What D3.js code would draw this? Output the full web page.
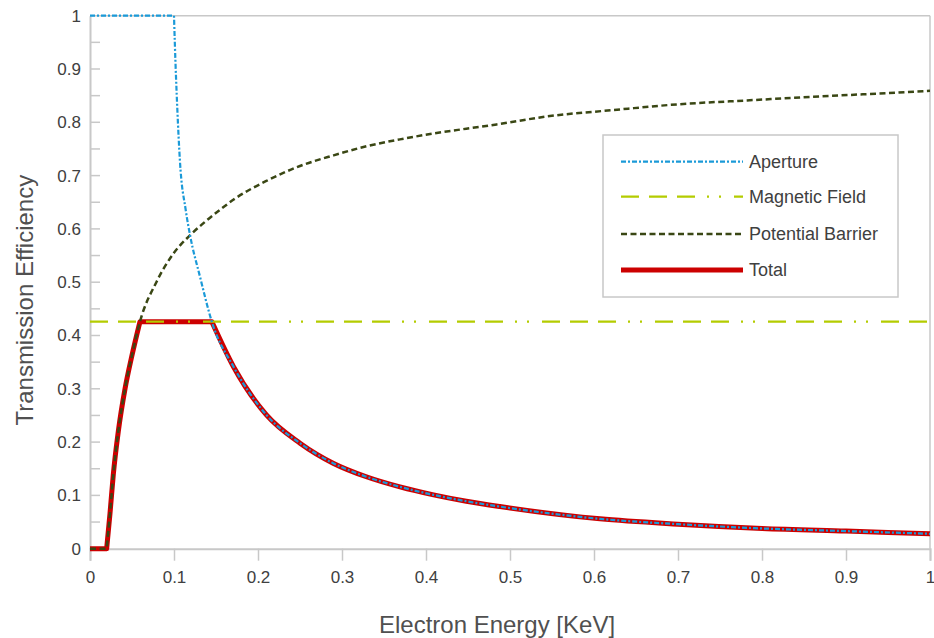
<!DOCTYPE html>
<html>
<head>
<meta charset="utf-8">
<script src="https://cdn.jsdelivr.net/npm/d3@7"></script>
<style>
  body { margin: 0; background: #fff; }
  text { font-family: "Liberation Sans", Arial, sans-serif; fill: #404040; }
  .axis-label { font-size: 24px; fill: #505050; }
  .tick text { font-size: 17px; }
  .legend text { font-size: 18px; }
</style>
</head>
<body>
<svg id="chart" width="934" height="638"></svg>
<script>
// Data (x in KeV, y as transmission efficiency)
const apertureX = [0, 0.1, 0.101, 0.104, 0.107, 0.114, 0.119, 0.131, 0.145, 0.171, 0.21, 0.25, 0.29, 0.329, 0.369, 0.409, 0.448, 0.488, 0.607, 0.7, 0.8, 0.9, 1.0];
const apertureY = [1, 1, 0.948, 0.823, 0.729, 0.635, 0.589, 0.51, 0.426, 0.341, 0.251, 0.198, 0.16, 0.135, 0.116, 0.101, 0.089, 0.079, 0.056, 0.046, 0.038, 0.033, 0.028];

const magneticX = [0, 1];
const magneticY = [0.426, 0.426];

const barrierX = [0, 0.0198, 0.0238, 0.0278, 0.0337, 0.0417, 0.0496, 0.0595, 0.079, 0.099, 0.119, 0.133, 0.159, 0.171, 0.21, 0.25, 0.29, 0.329, 0.369, 0.409, 0.448, 0.484, 0.544, 0.623, 0.702, 0.782, 0.861, 0.94, 1.0];
const barrierY = [0, 0, 0.066, 0.14, 0.22, 0.30, 0.36, 0.426, 0.50, 0.553, 0.588, 0.608, 0.641, 0.655, 0.69, 0.718, 0.738, 0.755, 0.768, 0.779, 0.788, 0.796, 0.811, 0.823, 0.834, 0.841, 0.848, 0.854, 0.859];

const totalX = [0, 0.0198, 0.0238, 0.0278, 0.0337, 0.0417, 0.0496, 0.0595, 0.145, 0.171, 0.21, 0.25, 0.29, 0.329, 0.369, 0.409, 0.448, 0.488, 0.607, 0.7, 0.8, 0.9, 1.0];
const totalY = [0, 0, 0.066, 0.14, 0.22, 0.30, 0.36, 0.426, 0.426, 0.341, 0.251, 0.198, 0.16, 0.135, 0.116, 0.101, 0.089, 0.079, 0.056, 0.046, 0.038, 0.033, 0.028];

const seriesNames = ["Aperture", "Magnetic Field", "Potential Barrier", "Total"];
const xTicks = [0, 0.1, 0.2, 0.3, 0.4, 0.5, 0.6, 0.7, 0.8, 0.9, 1];
const yTicks = [0, 0.1, 0.2, 0.3, 0.4, 0.5, 0.6, 0.7, 0.8, 0.9, 1];
const yMinorTicks = [0.05, 0.15, 0.25, 0.35, 0.45, 0.55, 0.65, 0.75, 0.85, 0.95];

// Setup
const svg = d3.select("#chart");
const width = +svg.attr("width");
const height = +svg.attr("height");
const margin = {top: 15.7, right: 4, bottom: 89.3, left: 90};
const innerW = width - margin.left - margin.right;
const innerH = height - margin.top - margin.bottom;

const g = svg.append("g").attr("transform", `translate(${margin.left},${margin.top})`);

const x = d3.scaleLinear().domain([0, 1]).range([0, innerW]);
const y = d3.scaleLinear().domain([0, 1]).range([innerH, 0]);

const grey = "#c8c8c8";

// Frame: top and right border
g.append("line").attr("x1", 0).attr("x2", innerW).attr("y1", 0).attr("y2", 0)
  .attr("stroke", grey).attr("stroke-width", 1.5);
g.append("line").attr("x1", innerW).attr("x2", innerW).attr("y1", 0).attr("y2", innerH)
  .attr("stroke", grey).attr("stroke-width", 1.5);

const fmt = d => d === 0 || d === 1 ? d3.format("d")(d) : d3.format(".1f")(d);

// Axes
const xAxis = g.append("g")
  .attr("transform", `translate(0,${innerH})`)
  .call(d3.axisBottom(x).tickValues(xTicks).tickSize(12).tickPadding(10).tickFormat(fmt));

const yAxis = g.append("g")
  .call(d3.axisLeft(y).tickValues(yTicks).tickSize(0).tickPadding(9).tickFormat(fmt));

[xAxis, yAxis].forEach(a => {
  a.select(".domain").attr("stroke", grey).attr("stroke-width", 2);
  a.selectAll(".tick line").attr("stroke", grey).attr("stroke-width", 1.5);
  a.selectAll(".tick text").attr("fill", "#404040");
});

// inward y ticks, major and minor
g.append("g").selectAll("line")
  .data(yTicks.concat(yMinorTicks).filter(d => d > 0 && d < 1))
  .join("line")
    .attr("x1", 0).attr("x2", 10)
    .attr("y1", d => y(d)).attr("y2", d => y(d))
    .attr("stroke", grey).attr("stroke-width", 1.5);

// Axis labels
g.append("text")
  .attr("class", "axis-label")
  .attr("x", innerW / 2 - 13)
  .attr("y", innerH + 84)
  .attr("text-anchor", "middle")
  .text("Electron Energy [KeV]");

g.append("text")
  .attr("class", "axis-label")
  .attr("transform", "rotate(-90)")
  .attr("x", -innerH / 2 - 18)
  .attr("y", -57)
  .attr("text-anchor", "middle")
  .text("Transmission Efficiency");

// Lines: smooth pieces joined at sharp corners
const line = d3.line().x(d => x(d[0])).y(d => y(d[1])).curve(d3.curveMonotoneX);
function piecewise(xs, ys, corners) {
  const pts = d3.zip(xs, ys);
  const cuts = [0, ...corners, pts.length - 1];
  let d = "";
  for (let i = 0; i < cuts.length - 1; i++) {
    const seg = line(pts.slice(cuts[i], cuts[i + 1] + 1));
    d += i === 0 ? seg : "L" + seg.slice(1);
  }
  return d;
}

const styles = {
  "Aperture": {color: "#1b9ad8", width: 2.2, dash: "5,2,2,2"},
  "Magnetic Field": {color: "#b4cc00", width: 2.2, dash: "18,10,18,10,18,12,2,10,2,13"},
  "Potential Barrier": {color: "#3a4714", width: 2.5, dash: "6,3.5"},
  "Total": {color: "#cc0000", width: 5, dash: null}
};
const seriesPaths = {
  "Aperture": piecewise(apertureX, apertureY, [1]),
  "Magnetic Field": piecewise(magneticX, magneticY, []),
  "Potential Barrier": piecewise(barrierX, barrierY, [1]),
  "Total": piecewise(totalX, totalY, [1, 7, 8])
};

// draw Total underneath the rest
["Total", "Magnetic Field", "Potential Barrier", "Aperture"].forEach(name => {
  const s = styles[name];
  g.append("path")
    .attr("fill", "none")
    .attr("stroke", s.color)
    .attr("stroke-width", s.width)
    .attr("stroke-dasharray", s.dash)
    .attr("stroke-linejoin", "round")
    .attr("d", seriesPaths[name]);
});

// Legend
const legend = svg.append("g").attr("class", "legend").attr("transform", "translate(603,135)");
legend.append("rect")
  .attr("width", 295).attr("height", 162)
  .attr("fill", "#fff").attr("stroke", grey).attr("stroke-width", 1.5);

const rows = legend.selectAll("g.row")
  .data(seriesNames)
  .join("g")
    .attr("class", "row")
    .attr("transform", (d, i) => `translate(0,${[26.7, 61.7, 99, 135][i]})`);

rows.append("line")
  .attr("x1", 18).attr("x2", 140)
  .attr("stroke", d => styles[d].color)
  .attr("stroke-width", d => styles[d].width)
  .attr("stroke-dasharray", d => styles[d].dash);

rows.append("text")
  .attr("x", 146)
  .attr("dy", "0.35em")
  .text(d => d);
</script>
</body>
</html>
